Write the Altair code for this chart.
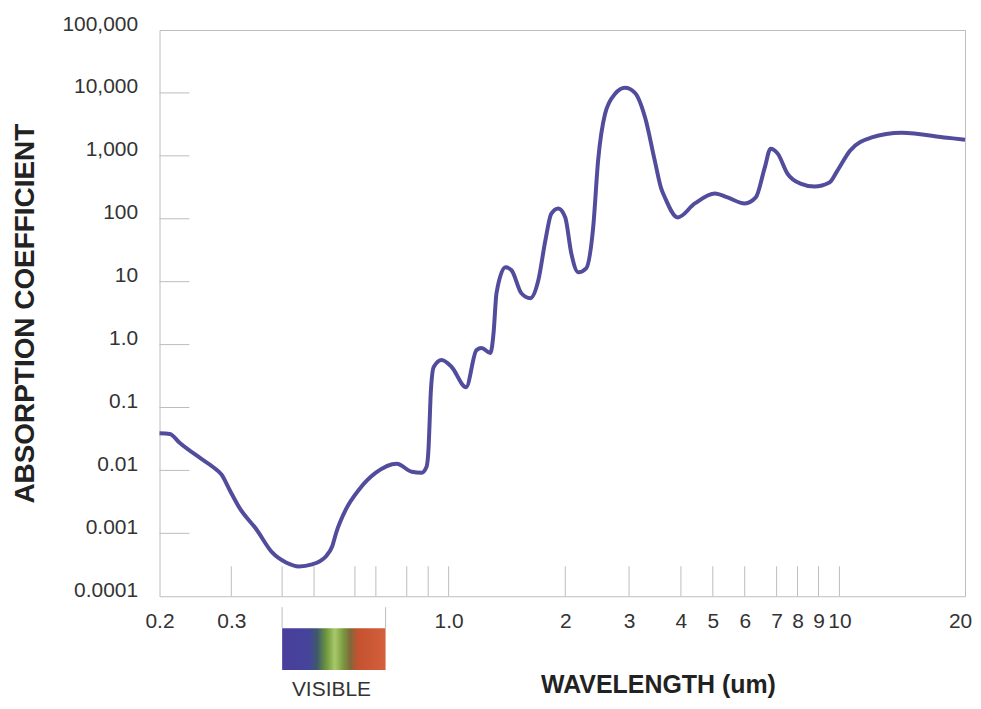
import math
import altair as alt
import pandas as pd

# ---- data ----
wavelength = [0.2, 0.212, 0.224, 0.251, 0.270, 0.284, 0.297, 0.314, 0.346, 0.378,
              0.411, 0.450, 0.493, 0.527, 0.542, 0.552, 0.576, 0.618, 0.70, 0.766,
              0.822, 0.868, 0.892, 0.902, 0.907, 0.912, 0.926, 0.965, 1.018, 1.109,
              1.180, 1.216, 1.282, 1.306, 1.329, 1.402, 1.453, 1.541, 1.626, 1.704,
              1.777, 1.841, 1.919, 2.0, 2.078, 2.172, 2.284, 2.388, 2.464, 2.576,
              2.746, 2.924, 3.10, 3.28, 3.46, 3.58, 3.66, 3.93, 4.41, 5.06,
              5.44, 6.0, 6.33, 6.61, 6.80, 7.05, 7.50, 8.13, 8.80, 9.51,
              9.90, 10.6, 11.9, 14.1, 18.1, 20.0]
absorption = [0.039, 0.038, 0.0275, 0.0159, 0.01145, 0.00855, 0.00494, 0.00256, 0.00115, 0.000497,
              0.000344, 0.000298, 0.000321, 0.000429, 0.000618, 0.00103, 0.00238, 0.00494, 0.0092, 0.0128,
              0.00953, 0.0092, 0.01145, 0.0238, 0.0636, 0.170, 0.44, 0.568, 0.44, 0.21,
              0.818, 0.881, 0.733, 1.52, 6.55, 16.9, 15.2, 6.55, 5.46, 10.5,
              45.3, 121, 146, 105, 28.2, 14.1, 16.3, 72.8, 839, 4667,
              9680, 12050, 10040, 4030, 839, 313, 218, 105, 175, 252,
              218, 175, 218, 650, 1300, 1084, 522, 362, 325, 376,
              582, 1208, 1942, 2330, 1942, 1807]

x_label_values = [0.2, 0.3, 1, 2, 3, 4, 5, 6, 7, 8, 9, 10, 20]
x_tick_values = [0.3, 0.4, 0.5, 0.6, 0.7, 0.8, 0.9, 1, 2, 3, 4, 5, 6, 7, 8, 9, 10]
y_label_values = [0.0001, 0.001, 0.01, 0.1, 1, 10, 100, 1000, 10000, 100000]
y_tick_values = [0.001, 0.01, 0.1, 1, 10, 100, 1000, 10000]
visible_range = [0.4, 0.73]

# hand-drawn axis: piecewise log scale matching the reference tick spacing
x_breaks = [0.2, 0.3, 0.4, 0.5, 0.6, 0.7, 0.8, 0.9, 1, 2, 3, 4, 5, 6, 7, 8, 9, 10, 20]
x_break_px = [0, 72, 123, 155, 196, 217, 248, 269.5, 290, 407, 471, 523, 555, 587, 619, 640, 661, 682, 808]

FONT = "Liberation Sans"
GRAY = "#bdbdbd"

x_scale = alt.Scale(type="log", domain=x_breaks, range=x_break_px, nice=False)
y_scale = alt.Scale(type="log", domain=[0.0001, 100000], nice=False)

curve = pd.DataFrame({"wavelength": wavelength, "absorption": absorption})
yt = pd.DataFrame({"absorption": y_tick_values})
xt = pd.DataFrame({"wavelength": x_tick_values})
vis = pd.DataFrame({"wavelength": [visible_range[0]], "wavelength2": [visible_range[1]]})
vis_edges = pd.DataFrame({"wavelength": visible_range})
vis_label = pd.DataFrame({"wavelength": [math.sqrt(visible_range[0] * visible_range[1])],
                          "label": ["VISIBLE"]})

x_axis = alt.Axis(
    values=x_label_values,
    labelExpr="datum.value == 1 ? '1.0' : '' + datum.value",
    ticks=False, domain=False, grid=False,
    labelFont=FONT, labelFontSize=21, labelColor="#333333",
    labelPadding=31, labelBaseline="alphabetic",
    labelFlush=False, labelOverlap=False,
    labelOffset={"condition": {"test": "datum.value == 20", "value": -5}, "value": 0},
    title="WAVELENGTH (um)", titleFont=FONT, titleFontSize=25, titleFontWeight="bold",
    titleColor="#222222", titleX=500, titleY=97, titleAlign="center",
    titleBaseline="alphabetic",
)
y_axis = alt.Axis(
    values=y_label_values,
    labelExpr="datum.value >= 1000 ? format(datum.value, ',') : (datum.value == 1 ? '1.0' : '' + datum.value)",
    ticks=False, domain=False, grid=False,
    labelFont=FONT, labelFontSize=21, labelColor="#333333",
    labelPadding=22, labelBaseline="alphabetic",
    labelFlush=False, labelOverlap=False,
    title="ABSORPTION COEFFICIENT", titleFont=FONT, titleFontSize=28, titleFontWeight="bold",
    titleColor="#222222", titleX=-134, titleY=284,
    titleAlign="center", titleBaseline="middle",
)

line = alt.Chart(curve).mark_line(
    color="#524c9c", strokeWidth=4, interpolate="monotone"
).encode(
    x=alt.X("wavelength:Q", scale=x_scale, axis=x_axis),
    y=alt.Y("absorption:Q", scale=y_scale, axis=y_axis),
)

ytick_rules = alt.Chart(yt).mark_rule(color=GRAY, strokeWidth=1).encode(
    y=alt.Y("absorption:Q"),
    x=alt.value(0), x2=alt.value(30),
)

xtick_rules = alt.Chart(xt).mark_rule(color=GRAY, strokeWidth=1).encode(
    x=alt.X("wavelength:Q"),
    y=alt.value(538), y2=alt.value(568),
)

gradient = alt.Gradient(
    gradient="linear",
    stops=[
        alt.GradientStop(color="#4a3e9c", offset=0.0),
        alt.GradientStop(color="#45449a", offset=0.26),
        alt.GradientStop(color="#3f5a6a", offset=0.34),
        alt.GradientStop(color="#6f9a3c", offset=0.43),
        alt.GradientStop(color="#a9c86c", offset=0.51),
        alt.GradientStop(color="#7a9a3e", offset=0.59),
        alt.GradientStop(color="#80683a", offset=0.66),
        alt.GradientStop(color="#c4522f", offset=0.73),
        alt.GradientStop(color="#d4603c", offset=1.0),
    ],
    x1=0, x2=1, y1=0, y2=0,
)

vis_rect = alt.Chart(vis).mark_rect(color=gradient).encode(
    x=alt.X("wavelength:Q"),
    x2="wavelength2:Q",
    y=alt.value(600), y2=alt.value(642),
)

vis_rules = alt.Chart(vis_edges).mark_rule(color=GRAY, strokeWidth=1).encode(
    x=alt.X("wavelength:Q"),
    y=alt.value(579), y2=alt.value(600),
)

vis_text = alt.Chart(vis_label).mark_text(
    font=FONT, fontSize=21, color="#333333", baseline="alphabetic", align="center"
).encode(
    x=alt.X("wavelength:Q"),
    y=alt.value(668),
    text="label:N",
)

chart = alt.layer(
    line, ytick_rules, xtick_rules, vis_rules, vis_rect, vis_text
).properties(
    width=808, height=568,
    padding={"left": 152, "top": 21, "right": 8, "bottom": 104},
    autosize=alt.AutoSizeParams(type="none"),
    background="white",
).configure_view(stroke=GRAY, strokeWidth=1)

chart.save("out.html", embed_options={"renderer": "svg", "actions": False})
